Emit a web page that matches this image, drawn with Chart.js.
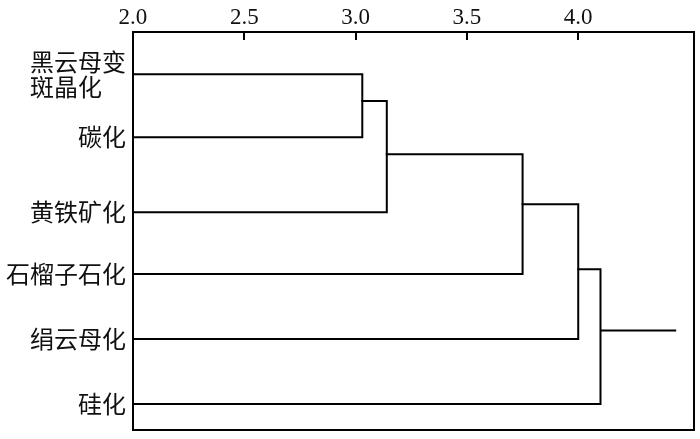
<!DOCTYPE html>
<html><head><meta charset="utf-8">
<script src="https://cdn.jsdelivr.net/npm/chart.js@4/dist/chart.umd.min.js"></script>
<style>html,body{margin:0;padding:0;background:#fff;} canvas{display:block;}</style>
</head><body>
<canvas id="c" width="700" height="439"></canvas>
<script>
// Leaves (top to bottom) and their row positions
const leafLabels = [['黑云母变', '斑晶化　'], '碳化', '黄铁矿化', '石榴子石化', '绢云母化', '硅化'];
const leafRows = [0.65, 1.62, 2.77, 3.72, 4.72, 5.72];
// Merges: child indices (0-5 leaves, 6+ merges), merge distance, row of outgoing link
const mergeChildren = [[0, 1], [6, 2], [7, 3], [8, 4], [9, 5]];
const mergeHeights = [3.03, 3.14, 3.75, 4.00, 4.10];
const mergeRows = [1.06, 1.88, 2.65, 3.65, 4.59];
const rootEnd = 4.44;
// Axis
const xTicks = [2.0, 2.5, 3.0, 3.5, 4.0];
const xMin = 2.0, xMax = 4.52, yMin = 0, yMax = 6.12;

const nLeaf = leafLabels.length;
const nodeX = i => i < nLeaf ? xMin : mergeHeights[i - nLeaf];
const nodeY = i => i < nLeaf ? leafRows[i] : mergeRows[i - nLeaf];

const lineStyle = {
  borderColor: '#000', borderWidth: 2, pointRadius: 0, showLine: true,
  borderJoinStyle: 'miter', borderCapStyle: 'square', tension: 0
};
const datasets = mergeChildren.map(([a, b], m) => {
  const h = mergeHeights[m];
  return Object.assign({
    data: [
      {x: nodeX(a), y: nodeY(a)}, {x: h, y: nodeY(a)},
      {x: h, y: nodeY(b)}, {x: nodeX(b), y: nodeY(b)}
    ]
  }, lineStyle);
});
const last = mergeHeights.length - 1;
datasets.push(Object.assign({
  data: [{x: mergeHeights[last], y: mergeRows[last]}, {x: rootEnd, y: mergeRows[last]}]
}, lineStyle, {borderCapStyle: 'butt'}));

const framePlugin = {
  id: 'frame',
  afterDatasetsDraw(chart) {
    const {ctx, chartArea: a, scales: {x}} = chart;
    ctx.save();
    ctx.strokeStyle = '#000';
    ctx.lineWidth = 2;
    ctx.strokeRect(a.left, a.top, a.right - a.left, a.bottom - a.top);
    ctx.beginPath();
    xTicks.forEach(v => {
      const px = Math.round(x.getPixelForValue(v));
      ctx.moveTo(px, a.top);
      ctx.lineTo(px, a.top + 8);
    });
    ctx.stroke();
    ctx.restore();
  }
};

const noEdgePadding = s => { s.paddingTop = 0; s.paddingBottom = 0; s.paddingLeft = 0; s.paddingRight = 0; };

new Chart(document.getElementById('c'), {
  type: 'scatter',
  data: {datasets},
  options: {
    responsive: false,
    animation: false,
    layout: {autoPadding: false, padding: {left: -1, top: 3, right: 6, bottom: 9}},
    plugins: {legend: {display: false}, tooltip: {enabled: false}},
    scales: {
      x: {
        type: 'linear', position: 'top', min: xMin, max: xMax,
        afterBuildTicks: s => { s.ticks = xTicks.map(v => ({value: v})); },
        afterFit: noEdgePadding,
        grid: {display: false, drawTicks: false},
        border: {display: false},
        ticks: {
          padding: 3, color: '#111', maxRotation: 0,
          font: {family: '"Liberation Serif", "DejaVu Serif", serif', size: 23, lineHeight: 1},
          callback: v => Number(v).toFixed(1)
        }
      },
      y: {
        type: 'linear', position: 'left', min: yMin, max: yMax, reverse: true,
        afterBuildTicks: s => { s.ticks = leafRows.map(v => ({value: v})); },
        afterFit: noEdgePadding,
        grid: {display: false, drawTicks: false},
        border: {display: false},
        ticks: {
          padding: 7, color: '#111',
          font: {family: '"Noto Sans CJK SC", sans-serif', size: 24, lineHeight: 1.05},
          callback: (v, i) => leafLabels[i]
        }
      }
    }
  },
  plugins: [framePlugin]
});
</script>
</body></html>
